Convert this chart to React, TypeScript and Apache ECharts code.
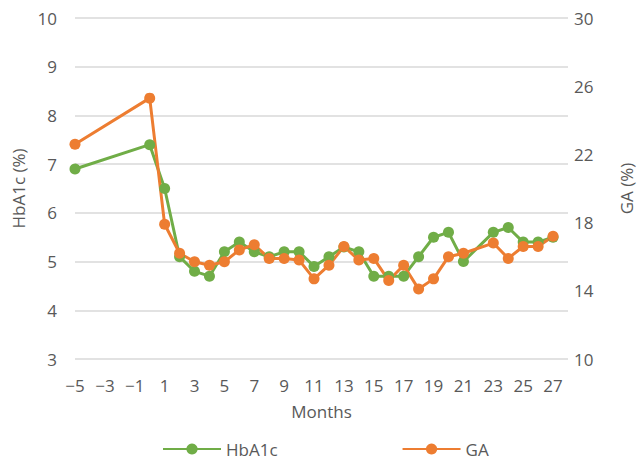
import React, { useEffect, useRef } from "react";
import * as echarts from "echarts";

const months = [-5, 0, 1, 2, 3, 4, 5, 6, 7, 8, 9, 10, 11, 12, 13, 14, 15, 16, 17, 18, 19, 20, 21, 23, 24, 25, 26, 27];
const hba1c = [6.9, 7.4, 6.5, 5.1, 4.8, 4.7, 5.2, 5.4, 5.2, 5.1, 5.2, 5.2, 4.9, 5.1, 5.3, 5.2, 4.7, 4.7, 4.7, 5.1, 5.5, 5.6, 5.0, 5.6, 5.7, 5.4, 5.4, 5.5];
const ga = [22.6, 25.3, 17.9, 16.2, 15.7, 15.5, 15.7, 16.4, 16.7, 15.9, 15.9, 15.8, 14.7, 15.5, 16.6, 15.8, 15.9, 14.6, 15.5, 14.1, 14.7, 16.0, 16.2, 16.8, 15.9, 16.6, 16.6, 17.2];
const xTickLabels = [-5, -3, -1, 1, 3, 5, 7, 9, 11, 13, 15, 17, 19, 21, 23, 25, 27];
const gaTickLabels = [10, 14, 18, 22, 26, 30];

const FONT = "'Open Sans', 'Noto Sans', sans-serif";
const TXT = "#595959";

export default function App() {
  const ref = useRef<HTMLDivElement>(null);
  useEffect(() => {
    if (!ref.current) return;
    const chart = echarts.init(ref.current, undefined, { renderer: "svg" });
    const textStyle = { fontFamily: FONT, fontSize: 17, color: TXT };
    chart.setOption({
      animation: false,
      textStyle: { fontFamily: FONT },
      grid: { left: 75, right: 72, top: 18, bottom: 101, containLabel: false },
      legend: {
        left: 157,
        top: 435,
        itemWidth: 58,
        itemHeight: 14,
        itemGap: 124,
        textStyle: { ...textStyle, fontSize: 17, lineHeight: 18 },
        data: ["HbA1c", "GA"],
      },
      xAxis: {
        type: "value",
        min: -5,
        max: 28,
        interval: 1,
        name: "Months",
        nameLocation: "middle",
        nameGap: 44,
        nameTextStyle: textStyle,
        axisLine: { show: false },
        axisTick: { show: false },
        splitLine: { show: false },
        axisLabel: {
          ...textStyle,
          margin: 18,
          formatter: (v: number) =>
            xTickLabels.includes(v) ? (v < 0 ? "\u2212" + Math.abs(v) : String(v)) : "",
        },
      },
      yAxis: [
        {
          type: "value",
          min: 3,
          max: 10,
          interval: 1,
          name: "HbA1c (%)",
          nameLocation: "middle",
          nameRotate: 90,
          nameGap: 46,
          nameTextStyle: textStyle,
          axisLine: { show: false },
          axisTick: { show: false },
          axisLabel: { ...textStyle, margin: 18 },
          splitLine: { lineStyle: { color: "#d9d9d9", width: 1.5 } },
        },
        {
          type: "value",
          min: 10,
          max: 30,
          interval: 2,
          name: "GA (%)",
          nameLocation: "middle",
          nameRotate: 90,
          nameGap: 50,
          nameTextStyle: textStyle,
          axisLine: { show: false },
          axisTick: { show: false },
          axisLabel: {
            ...textStyle,
            margin: 6,
            formatter: (v: number) => (gaTickLabels.includes(v) ? String(v) : ""),
          },
          splitLine: { show: false },
        },
      ],
      series: [
        {
          name: "HbA1c",
          type: "line",
          yAxisIndex: 0,
          data: months.map((m, i) => [m, hba1c[i]]),
          symbol: "circle",
          symbolSize: 11,
          lineStyle: { width: 3, color: "#70AD47" },
          itemStyle: { color: "#70AD47" },
        },
        {
          name: "GA",
          type: "line",
          yAxisIndex: 1,
          data: months.map((m, i) => [m, ga[i]]),
          symbol: "circle",
          symbolSize: 11,
          lineStyle: { width: 3, color: "#ED7D31" },
          itemStyle: { color: "#ED7D31" },
        },
      ],
    });
    return () => chart.dispose();
  }, []);
  return (
    <div
      ref={ref}
      style={{ position: "absolute", left: 0, top: 0, width: 643, height: 460 }}
    />
  );
}
